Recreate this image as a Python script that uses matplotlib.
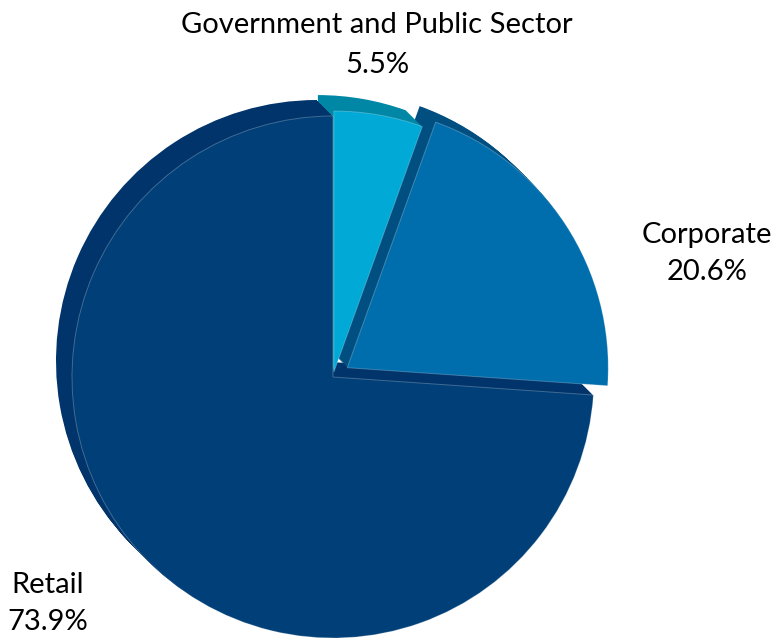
import numpy as np
import matplotlib.pyplot as plt

plt.rcParams['font.family'] = ['Lato', 'DejaVu Sans']

# data
sectors = ['Government and Public Sector', 'Corporate', 'Retail']
shares = [5.5, 20.6, 73.9]
pct_labels = ['5.5%', '20.6%', '73.9%']

# styles
top_colors = ['#00A9D6', '#006EAD', '#003F77']
side_colors = ['#0087A6', '#004F80', '#00346A']
explode_px = [5, 17, 0]

W, H = 777, 638
cx, cy = 333, H - 377   # pie centre in pixels (y up)
R = 261
depth = 16              # extrusion towards upper left

fig = plt.figure(figsize=(W / 100, H / 100), dpi=100)
ax = fig.add_axes([0, 0, 1, 1])

# side of the 3d pie: stacked copies shifted up-left
for k in range(depth, 0, -1):
    ax.pie(shares, explode=explode_px, colors=side_colors, startangle=90,
           counterclock=False, radius=R, center=(cx - k, cy + k),
           wedgeprops=dict(linewidth=0))

# top face
ax.pie(shares, explode=explode_px, colors=top_colors, startangle=90,
       counterclock=False, radius=R, center=(cx, cy),
       wedgeprops=dict(linewidth=0.7, edgecolor=(1, 1, 1, 0.25)))

ax.set_xlim(0, W)
ax.set_ylim(0, H)
ax.set_aspect('equal')
ax.axis('off')

fs = 21
# labels (pixel positions of each label line)
label_pos = [(377, 25, 65), (707, 235, 272), (48, 585, 622)]
for name, pct, (x, y1, y2) in zip(sectors, pct_labels, label_pos):
    ax.text(x, H - y1, name, ha='center', va='center', fontsize=fs, color='black')
    ax.text(x, H - y2, pct, ha='center', va='center', fontsize=fs, color='black')

fig.savefig('out.png', dpi=100)
